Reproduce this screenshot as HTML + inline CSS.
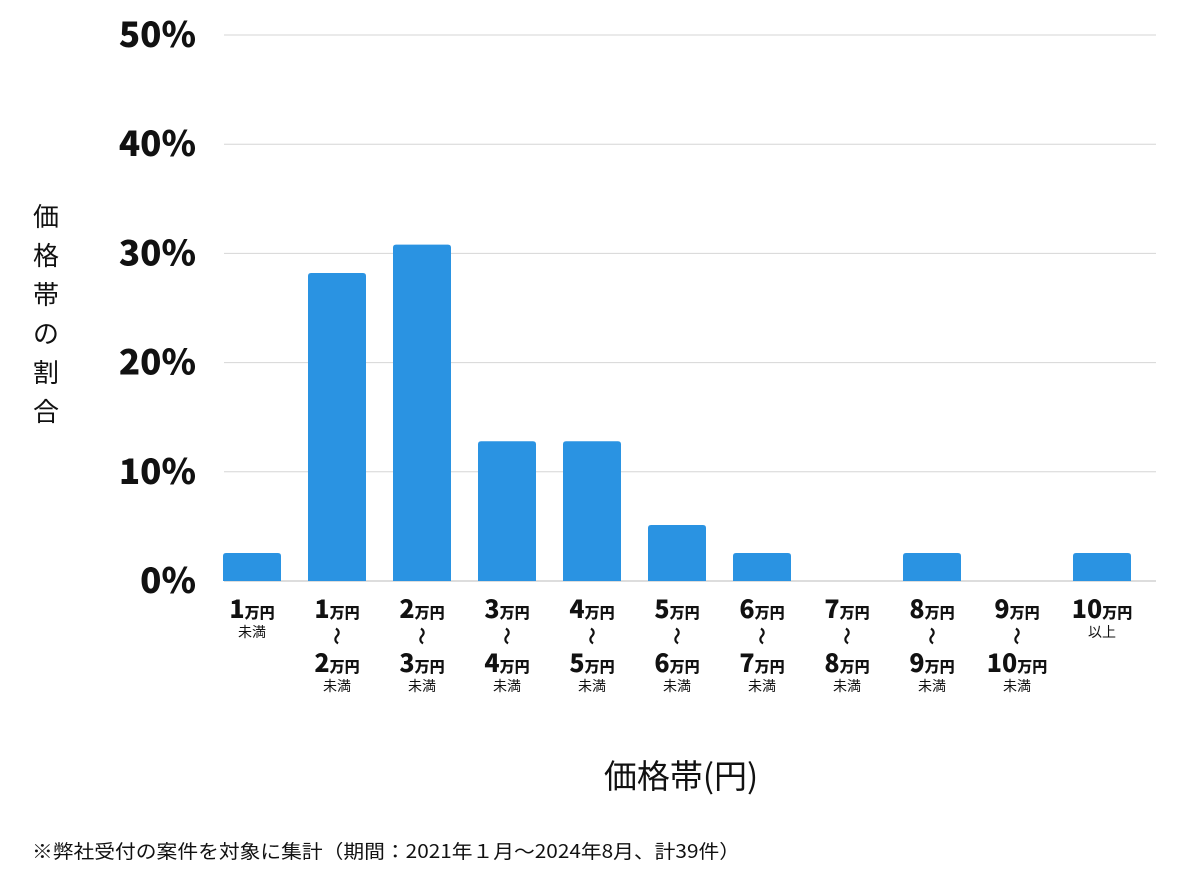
<!DOCTYPE html>
<html><head><meta charset="utf-8"><style>
body{margin:0;background:#fff;width:1200px;height:874px;overflow:hidden;font-family:"Liberation Sans","Noto Sans CJK JP",sans-serif;}
svg text{font-family:"Noto Sans CJK JP","Liberation Sans",sans-serif;}
</style></head><body>
<svg id="chart" width="1200" height="874"></svg>
<script>
const categories=[["1","未満",null],["1","2","未満"],["2","3","未満"],["3","4","未満"],["4","5","未満"],["5","6","未満"],["6","7","未満"],["7","8","未満"],["8","9","未満"],["9","10","未満"],["10","以上",null]];
const values=[2.56,28.2,30.8,12.8,12.8,5.13,2.56,0,2.56,0,2.56];
const yTicks=[0,10,20,30,40,50];
const NS="http://www.w3.org/2000/svg";
const svg=document.getElementById('chart');
const x0=224,x1=1156,y0=581,yTop=35,yMax=50;
const bw=58;
function yS(v){return y0-(v/yMax)*(y0-yTop);}
function xC(i){return 252+i*85;}
function mk(t,a,txt){const e=document.createElementNS(NS,t);for(const k in a)e.setAttribute(k,a[k]);if(txt!=null)e.textContent=txt;svg.appendChild(e);return e;}
yTicks.forEach(v=>{
 const l=mk('line',{x1:x0,x2:x1,y1:yS(v),y2:yS(v),stroke:v===0?'#bbb':'#d6d6d6','stroke-width':1});
 
 
 const t=mk('text',{x:196,y:yS(v)+12,'text-anchor':'end','font-size':35,'font-weight':900,fill:'#111'},v+'%');
 
 
});
values.forEach((v,i)=>{
 const h=y0-yS(v);
 if(h>0){
 const r=mk('path',{d:`M${xC(i)-bw/2},${y0} V${yS(v)+3} Q${xC(i)-bw/2},${yS(v)} ${xC(i)-bw/2+3},${yS(v)} H${xC(i)+bw/2-3} Q${xC(i)+bw/2},${yS(v)} ${xC(i)+bw/2},${yS(v)+3} V${y0} Z`,fill:'#2a93e2'});
 
 
 }
 const c=categories[i],cx=xC(i);
 function num(n,y){const t=mk('text',{x:cx,y:y,'text-anchor':'middle',fill:'#111','font-weight':900});
  const a=document.createElementNS(NS,'tspan');a.setAttribute('font-size','25');a.textContent=n;t.appendChild(a);
  const b=document.createElementNS(NS,'tspan');b.setAttribute('font-size','15');b.textContent='万円';t.appendChild(b);
  
  }
 num(c[0],618);
 if(c[2]===null){
  const t=mk('text',{x:cx,y:637,'text-anchor':'middle','font-size':14,fill:'#111'},c[1]);
  
  
 }else{
  const w=mk('text',{x:0,y:0,'text-anchor':'middle','font-size':18,'font-weight':'bold',fill:'#111',transform:`translate(${cx},636) rotate(90)`,'dominant-baseline':'central'},'〜');
  
  
  num(c[1],672);
  const t=mk('text',{x:cx,y:691,'text-anchor':'middle','font-size':14,fill:'#111'},c[2]);
  
  
 }
});
const yt=mk('text',{x:46,y:0,'font-size':26,fill:'#111','text-anchor':'middle'});


['価','格','帯','の','割','合'].forEach((ch,k)=>{const s=document.createElementNS(NS,'tspan');s.setAttribute('x','46');s.setAttribute('y',String(226+k*39));s.textContent=ch;yt.appendChild(s);});
const xt=mk('text',{x:681,y:788,'text-anchor':'middle','font-size':33,fill:'#111'},'価格帯(円)');


const fn=mk('text',{x:32,y:858,'font-size':19,fill:'#111',textLength:708,lengthAdjust:'spacingAndGlyphs'},'※弊社受付の案件を対象に集計（期間：2021年１月〜2024年8月、計39件）');


</script>
</body></html>
